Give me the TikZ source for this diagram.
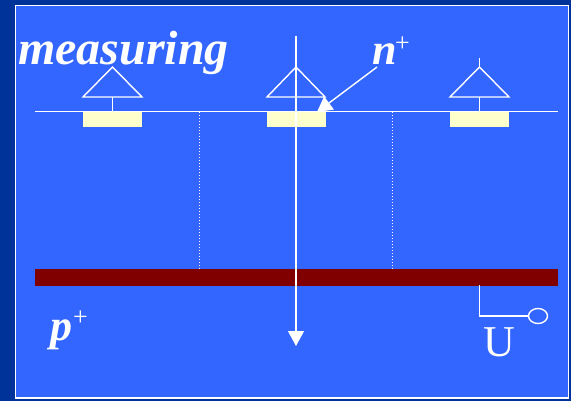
\documentclass[tikz,border=0pt]{standalone}
\usepackage{fontspec}
\setmainfont{Liberation Serif}
\usetikzlibrary{arrows.meta, shapes.geometric}
\definecolor{slidedark}{HTML}{003399}
\definecolor{slideblue}{HTML}{3366FF}
\definecolor{padyellow}{HTML}{FFFFCC}
\definecolor{barred}{HTML}{800000}
\tikzset{
	wire/.style={draw=white, line width=1.4pt},
	padbox/.style={fill=padyellow, minimum width=59pt, minimum height=15pt, inner sep=0pt},
	biglabel/.style={text=white, inner sep=0pt, anchor=base west, font=\fontsize{44}{44}\selectfont\bfseries\itshape},
	plusmark/.style={text=white, inner sep=0pt, anchor=base west, font=\fontsize{26}{26}\selectfont}
}
\begin{document}
\begin{tikzpicture}[x=1pt, y=-1pt, >={Triangle[length=15pt, width=16pt]}]
	\useasboundingbox (0,0) rectangle (571,401);
	\fill[slidedark] (0,0) rectangle (571,401);
	\draw[fill=slideblue, draw=white, line width=1.2pt] (15.5,5.5) rectangle (568.5,398);

	% substrate and strip
	\node[fill=barred, minimum width=523pt, minimum height=17pt, inner sep=0pt] (bar) at (296.5,277.5) {};
	\coordinate (stripL) at (35,111.5);
	\coordinate (stripR) at (558,111.5);
	\node[padbox] (pad1) at (112.5,119.5) {};
	\node[padbox] (pad2) at (296,119.5) {};
	\node[padbox] (pad3) at (479.5,119.5) {};
	\draw[wire] (stripL) -- (stripR);

	% readout triangles
	\draw[wire] (112.5,67) -- (83,97) -- (142,97) -- cycle;
	\draw[wire] (296,67) -- (267,97) -- (325,97) -- cycle;
	\draw[wire] (479.5,67) -- (450,97) -- (509,97) -- cycle;
	\coordinate (base1) at (112.5,97);
	\coordinate (base3) at (479.5,97);
	\coordinate (stub3) at (479.5,58);
	\draw[wire] (base1) -- (112.5,111.5);
	\draw[wire] (base3) -- (479.5,111.5);
	\draw[wire] (stub3) -- (479.5,67);

	% field lines
	\coordinate (dot1) at (199.5,112);
	\coordinate (dot2) at (392.5,112);
	\draw[white, line width=1pt, dash pattern=on 1pt off 2pt] (dot1) -- (dot1 |- bar.north);
	\draw[white, line width=1pt, dash pattern=on 1pt off 2pt] (dot2) -- (dot2 |- bar.north);

	% track
	\coordinate (trackA) at (296,36);
	\coordinate (trackB) at (296,346);
	\draw[wire, ->] (trackA) -- (trackB);

	% labels
	\node[biglabel, font=\fontsize{48}{48}\selectfont\bfseries\itshape] (lblmeasuring) at (18,65) {measuring};
	\node[biglabel] (lbln) at (372,65) {n};
	\node[plusmark] (lblnplus) at (395,52) {+};
	\node[biglabel] (lblp) at (50,340) {p};
	\node[plusmark] (lblpplus) at (73,325) {+};
	\node[text=white, inner sep=0pt, anchor=base west, font=\fontsize{44}{44}\selectfont] (lblU) at (483,356) {U};

	% arrow to the n+ pad
	\coordinate (nfrom) at (377,67);
	\coordinate (nto) at (317,112);
	\draw[wire, ->] (nfrom) -- (nto);

	% contact
	\node[draw=white, line width=1.4pt, ellipse, minimum width=19pt, minimum height=15pt, inner sep=0pt] (term) at (538,316) {};
	\coordinate (contact) at (479.5,285);
	\draw[wire] (contact) |- (term.west);
\end{tikzpicture}
\end{document}
